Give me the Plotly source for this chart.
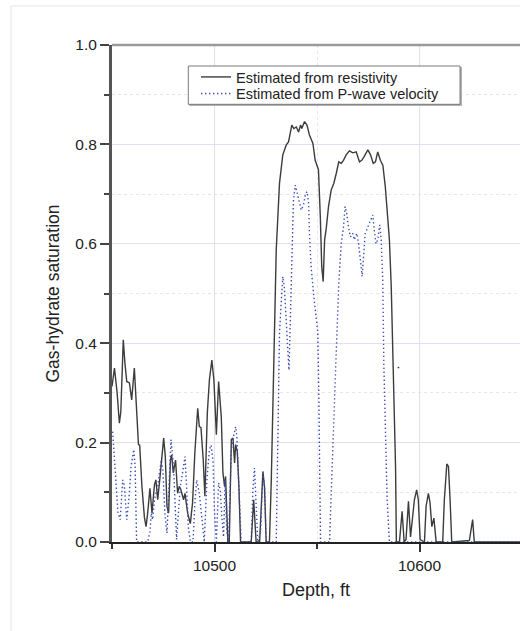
import plotly.graph_objects as go

# ---- Data ----
res_depth = [10450.0, 10451.2, 10452.5, 10453.6, 10454.3, 10455.5, 10456.3, 10457.2, 10458.5, 10459.6,
             10460.9, 10462.0, 10462.9, 10463.5, 10464.6, 10465.8, 10466.6, 10467.4, 10468.5, 10469.5,
             10470.7, 10471.4, 10472.3, 10473.4, 10474.2, 10475.2, 10476.0, 10476.8, 10477.6, 10478.5,
             10479.1, 10479.9, 10481.0, 10482.0, 10482.8, 10483.6, 10484.9, 10485.6, 10486.9, 10488.2,
             10489.3, 10490.4, 10491.8, 10492.6, 10493.4, 10494.5, 10495.3, 10496.5, 10497.5, 10498.7,
             10499.7, 10500.9, 10502.0, 10503.3, 10504.1, 10504.9, 10505.4, 10506.0, 10506.5, 10507.2,
             10508.2, 10509.0, 10509.8, 10510.3, 10511.1, 10511.9, 10512.7, 10517.9, 10519.1, 10520.3,
             10522.0, 10523.6, 10524.4, 10525.2, 10526.8, 10527.7, 10528.5, 10529.3, 10530.1, 10531.7,
             10533.3, 10535.0, 10536.1, 10537.7, 10538.7, 10539.9, 10541.0, 10542.0, 10542.6, 10543.9,
             10545.1, 10546.3, 10548.0, 10549.1, 10549.9, 10550.7, 10551.6, 10552.3, 10553.0, 10553.7,
             10554.5, 10555.6, 10556.9, 10558.2, 10559.4, 10560.6, 10561.8, 10562.9, 10564.2, 10565.8,
             10567.5, 10569.1, 10570.7, 10571.8, 10572.9, 10574.8, 10576.1, 10577.4, 10578.5, 10579.6,
             10580.9, 10582.1, 10583.3, 10584.3, 10585.3, 10586.2, 10586.9, 10587.8, 10588.3, 10588.7,
             10590.2, 10591.5, 10592.5, 10593.4, 10594.6, 10595.6, 10596.7, 10597.5, 10598.6, 10599.4,
             10600.3, 10602.4, 10603.2, 10604.3, 10605.1, 10606.0, 10607.0, 10607.6, 10608.1, 10611.3,
             10612.1, 10613.3, 10614.1, 10614.9, 10615.7, 10624.3, 10625.9, 10626.7, 10649.0]
res_sat = [0.313, 0.350, 0.300, 0.239, 0.262, 0.407, 0.360, 0.323, 0.320, 0.286,
           0.350, 0.260, 0.196, 0.195, 0.112, 0.050, 0.031, 0.058, 0.108, 0.058,
           0.115, 0.125, 0.085, 0.130, 0.172, 0.209, 0.172, 0.072, 0.058, 0.165,
           0.175, 0.139, 0.165, 0.098, 0.112, 0.105, 0.085, 0.098, 0.058, 0.037,
           0.079, 0.179, 0.269, 0.232, 0.230, 0.165, 0.092, 0.260, 0.326, 0.366,
           0.326, 0.216, 0.323, 0.252, 0.139, 0.112, 0.132, 0.078, 0.0, 0.0,
           0.206, 0.209, 0.159, 0.196, 0.182, 0.112, 0.0, 0.0, 0.085, 0.0,
           0.0, 0.142, 0.110, 0.0, 0.0, 0.125, 0.293, 0.433, 0.588, 0.722,
           0.779, 0.799, 0.805, 0.839, 0.832, 0.835, 0.825, 0.839, 0.832, 0.846,
           0.839, 0.819, 0.802, 0.768, 0.758, 0.749, 0.655, 0.554, 0.524, 0.608,
           0.631, 0.675, 0.708, 0.722, 0.742, 0.765, 0.762, 0.768, 0.779, 0.787,
           0.783, 0.785, 0.765, 0.768, 0.775, 0.789, 0.779, 0.762, 0.765, 0.785,
           0.768, 0.758, 0.715, 0.668, 0.608, 0.514, 0.400, 0.286, 0.152, 0.0,
           0.0, 0.062, 0.0, 0.005, 0.082, 0.010, 0.050, 0.085, 0.105, 0.085,
           0.005, 0.0, 0.072, 0.098, 0.080, 0.031, 0.048, 0.025, 0.0, 0.0,
           0.085, 0.157, 0.152, 0.085, 0.0, 0.003, 0.045, 0.0, 0.0]

# short isolated segment of the resistivity curve
blip_depth = [10589.3, 10590.1]
blip_sat = [0.351, 0.351]

pw_depth = [10450.3, 10451.5, 10452.9, 10454.0, 10455.2, 10456.0, 10457.2, 10458.3, 10459.3, 10460.6,
            10461.3, 10462.0, 10467.4, 10468.5, 10469.2, 10469.8, 10470.7, 10472.3, 10473.1, 10474.0,
            10474.8, 10475.8, 10476.8, 10477.9, 10478.8, 10479.7, 10480.3, 10481.5, 10482.3, 10483.3,
            10484.4, 10485.6, 10486.4, 10487.2, 10488.2, 10489.5, 10490.5, 10491.3, 10492.6, 10493.4,
            10494.2, 10495.0, 10496.3, 10497.5, 10498.4, 10499.3, 10500.0, 10500.9, 10502.0, 10502.8,
            10503.6, 10504.4, 10505.2, 10506.0, 10506.8, 10508.2, 10509.3, 10510.3, 10510.9, 10511.7,
            10512.6, 10513.0, 10517.9, 10518.7, 10519.5, 10520.3, 10521.1, 10522.5, 10523.6, 10524.4,
            10525.2, 10530.1, 10530.9, 10531.7, 10532.5, 10533.3, 10534.1, 10534.9, 10535.8, 10536.3,
            10537.0, 10537.7, 10538.5, 10539.4, 10540.2, 10541.0, 10542.3, 10543.4, 10544.4, 10545.2,
            10545.9, 10546.3, 10547.1, 10548.3, 10549.1, 10549.9, 10550.4, 10550.9, 10551.2, 10551.7,
            10556.1, 10556.9, 10558.2, 10559.4, 10560.6, 10561.8, 10562.9, 10563.7, 10564.5, 10565.3,
            10566.3, 10567.4, 10568.2, 10569.4, 10570.3, 10571.2, 10572.0, 10572.7, 10573.5, 10574.8,
            10576.1, 10577.2, 10578.0, 10578.8, 10579.6, 10580.6, 10581.3, 10582.1, 10582.6, 10583.3,
            10584.2, 10585.3, 10649.0]
pw_sat = [0.222, 0.150, 0.060, 0.045, 0.125, 0.115, 0.045, 0.090, 0.152, 0.186,
          0.150, 0.0, 0.0, 0.020, 0.058, 0.045, 0.085, 0.112, 0.139, 0.165,
          0.145, 0.058, 0.018, 0.132, 0.206, 0.165, 0.125, 0.005, 0.058, 0.112,
          0.139, 0.172, 0.112, 0.031, 0.0, 0.0, 0.085, 0.125, 0.098, 0.065,
          0.018, 0.0, 0.125, 0.186, 0.195, 0.160, 0.060, 0.0, 0.119, 0.105,
          0.050, 0.010, 0.125, 0.020, 0.0, 0.186, 0.212, 0.232, 0.212, 0.140,
          0.050, 0.0, 0.0, 0.105, 0.149, 0.080, 0.0, 0.020, 0.139, 0.112,
          0.0, 0.0, 0.219, 0.420, 0.480, 0.534, 0.510, 0.440, 0.366, 0.346,
          0.450, 0.588, 0.688, 0.718, 0.705, 0.688, 0.668, 0.678, 0.701, 0.705,
          0.681, 0.621, 0.554, 0.500, 0.474, 0.447, 0.420, 0.286, 0.152, 0.0,
          0.0, 0.085, 0.252, 0.386, 0.520, 0.600, 0.634, 0.675, 0.661, 0.634,
          0.614, 0.621, 0.608, 0.621, 0.600, 0.561, 0.534, 0.574, 0.621, 0.634,
          0.648, 0.658, 0.625, 0.600, 0.608, 0.638, 0.608, 0.520, 0.353, 0.219,
          0.085, 0.0, 0.0]

series_names = ["Estimated from resistivity", "Estimated from P-wave velocity"]
x_major_ticks = [10500, 10600]
x_minor_ticks = [10450, 10550, 10650]
x_title = "Depth, ft"
y_title = "Gas-hydrate saturation"

FONT = "Liberation Sans, Arial, Helvetica, sans-serif"
SOLID = "#3c3c3c"
DOT = "#3b4db5"

fig = go.Figure()
fig.add_trace(go.Scatter(x=res_depth, y=res_sat, mode="lines", name=series_names[0],
                         line=dict(color=SOLID, width=1.4), legendgroup="r", legend="legend"))
fig.add_trace(go.Scatter(x=blip_depth, y=blip_sat, mode="lines", showlegend=False,
                         line=dict(color=SOLID, width=1.4), legendgroup="r"))
fig.add_trace(go.Scatter(x=pw_depth, y=pw_sat, mode="lines", name=series_names[1],
                         line=dict(color=DOT, width=1.4, dash="1.4px,2.6px"), legend="legend2"))

L, T, B, R = 112, 45, 89, 0
W, H = 520, 631
pw_ = W - L - R
ph_ = H - T - B


def px_x(p):
    return (p - L) / pw_


def px_y(p):
    return (H - B - p) / ph_


shapes = [
    # outer faint frame (left + top)
    dict(type="line", xref="paper", yref="paper", x0=px_x(11), x1=px_x(11), y0=px_y(6), y1=px_y(631),
         line=dict(color="#e4e4e4", width=1)),
    dict(type="line", xref="paper", yref="paper", x0=px_x(11), x1=px_x(530), y0=px_y(6), y1=px_y(6),
         line=dict(color="#e4e4e4", width=1)),
    # top frame of plot
    dict(type="line", xref="paper", yref="paper", x0=0, x1=1.02, y0=1, y1=1,
         line=dict(color="#9a9a9a", width=2.5), layer="above"),
    # legend box shadow + box
    dict(type="rect", xref="paper", yref="paper", x0=px_x(189.5), x1=px_x(461.5), y0=px_y(105.5), y1=px_y(67.5),
         line=dict(color="#b0b0b0", width=1), fillcolor="#b0b0b0", layer="above"),
    dict(type="rect", xref="paper", yref="paper", x0=px_x(188.3), x1=px_x(460), y0=px_y(104.3), y1=px_y(66),
         line=dict(color="#7a7a7a", width=1), fillcolor="white", layer="above"),
]

LEG_FONT = dict(family=FONT, size=14.5, color="#222")
fig.update_layout(
    width=W, height=H,
    margin=dict(l=L, r=R, t=T, b=B, autoexpand=False),
    paper_bgcolor="white", plot_bgcolor="white",
    font=dict(family=FONT, color="#222"),
    shapes=shapes,
    showlegend=True,
    legend=dict(x=px_x(196), y=px_y(61), xanchor="left", yanchor="top",
                bgcolor="rgba(0,0,0,0)", borderwidth=0, font=LEG_FONT),
    legend2=dict(x=px_x(196), y=px_y(77.5), xanchor="left", yanchor="top",
                 bgcolor="rgba(0,0,0,0)", borderwidth=0, font=LEG_FONT),
)

fig.update_xaxes(
    range=[10450, 10649], tickmode="array", tickvals=x_major_ticks, ticktext=[str(v) for v in x_major_ticks],
    ticks="outside", ticklen=8, tickwidth=1.5, tickcolor="#333",
    showline=True, linecolor="#222", linewidth=2,
    showgrid=True, gridcolor="#e0e0f2", gridwidth=1, zeroline=False,
    tickfont=dict(size=15.5, family=FONT, color="#222"),
    title=dict(text=x_title, font=dict(size=18, family=FONT, color="#222"), standoff=11),
    minor=dict(tickmode="array", tickvals=x_minor_ticks, ticks="outside", ticklen=5, tickwidth=1.5,
               tickcolor="#333", showgrid=True, gridcolor="#e6e6e6", griddash="dot", gridwidth=1),
)
fig.update_yaxes(
    range=[0, 1], dtick=0.2, tick0=0, tickformat=".1f",
    ticks="outside", ticklen=9, tickwidth=1.5, tickcolor="#444",
    showline=True, linecolor="#555", linewidth=3,
    showgrid=True, gridcolor="#e0e0f2", gridwidth=1, zeroline=False,
    tickfont=dict(size=15.5, family=FONT, color="#222"),
    title=dict(text=y_title, font=dict(size=17.5, family=FONT, color="#222"), standoff=12),
    minor=dict(dtick=0.1, tick0=0, ticks="outside", ticklen=5, tickwidth=1.5, tickcolor="#444",
               showgrid=True, gridcolor="#e6e6e6", griddash="dot", gridwidth=1),
)

fig.write_html("out.html")
